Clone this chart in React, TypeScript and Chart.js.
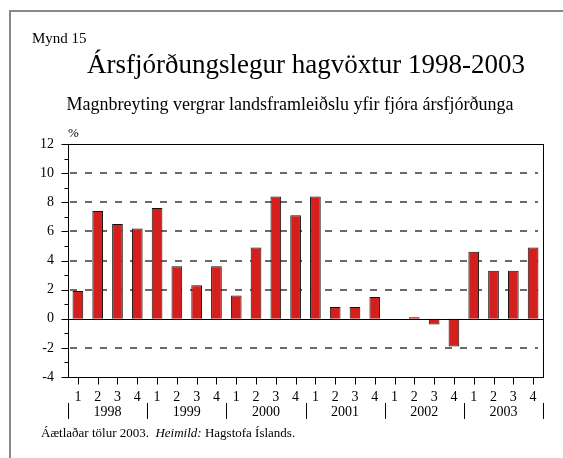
import React, { useEffect, useRef } from "react";
import { Chart, registerables } from "chart.js";

Chart.register(...registerables);

const years = ["1998", "1999", "2000", "2001", "2002", "2003"];
const quarters = ["1", "2", "3", "4"];
const growth = [
  1.9, 7.4, 6.5, 6.2,
  7.6, 3.6, 2.3, 3.6,
  1.6, 4.9, 8.4, 7.1,
  8.4, 0.8, 0.8, 1.5,
  0.0, 0.1, -0.4, -1.9,
  4.6, 3.3, 3.3, 4.9,
];
const yMin = -4;
const yMax = 12;
const dashedLevels = [-2, 2, 4, 6, 8, 10];

const figLabel = "Mynd 15";
const titleText = "Ársfjórðungslegur hagvöxtur 1998-2003";
const subtitleText = "Magnbreyting vergrar landsframleiðslu yfir fjóra ársfjórðunga";
const unitText = "%";
const footText = "Áætlaðar tölur 2003.";
const footItalic = "Heimild:";
const footRest = " Hagstofa Íslands.";

const labels = years.flatMap(() => quarters);
const SERIF = '"Liberation Serif", "Times New Roman", serif';

const decor = {
  id: "decor",
  beforeDatasetsDraw(chart: any) {
    const { ctx, chartArea: a, scales } = chart;
    const y = scales.y;
    ctx.save();
    ctx.strokeStyle = "#3a3a3a";
    ctx.lineWidth = 1.3;
    ctx.setLineDash([7, 8]);
    for (const v of dashedLevels) {
      const py = Math.round(y.getPixelForValue(v));
      ctx.beginPath();
      ctx.moveTo(a.left + 2, py);
      ctx.lineTo(a.right - 5, py);
      ctx.stroke();
    }
    ctx.restore();
  },
  afterDatasetsDraw(chart: any) {
    const { ctx, chartArea: a, scales } = chart;
    const y = scales.y;
    const x = scales.x;
    ctx.save();
    ctx.strokeStyle = "#000";
    ctx.lineWidth = 1;
    ctx.setLineDash([]);
    // zero line
    const z = Math.round(y.getPixelForValue(0)) + 0.5;
    ctx.beginPath();
    ctx.moveTo(a.left, z);
    ctx.lineTo(a.right, z);
    ctx.stroke();
    // plot frame
    const L = Math.round(a.left) + 0.5;
    const R = Math.round(a.right) + 0.5;
    const T = Math.round(a.top) + 0.5;
    const B = Math.round(a.bottom) + 0.5;
    ctx.strokeRect(L, T, R - L, B - T);
    // y ticks
    for (let v = yMin; v <= yMax; v++) {
      const py = Math.round(y.getPixelForValue(v)) + 0.5;
      const len = v % 2 === 0 ? 7 : 4;
      ctx.beginPath();
      ctx.moveTo(L - len, py);
      ctx.lineTo(L, py);
      ctx.stroke();
    }
    // x ticks
    for (let i = 0; i < labels.length; i++) {
      const px = Math.round(x.getPixelForValue(i)) + 0.5;
      ctx.beginPath();
      ctx.moveTo(px, B);
      ctx.lineTo(px, B + 7);
      ctx.stroke();
    }
    // year separators and labels
    const per = quarters.length;
    const step = x.getPixelForValue(1) - x.getPixelForValue(0);
    ctx.fillStyle = "#000";
    ctx.font = `14px ${SERIF}`;
    ctx.textAlign = "center";
    ctx.textBaseline = "middle";
    for (let k = 0; k <= years.length; k++) {
      const idx = k * per;
      const px =
        Math.round(
          idx < labels.length
            ? x.getPixelForValue(idx) - step / 2
            : x.getPixelForValue(labels.length - 1) + step / 2
        ) + 0.5;
      ctx.beginPath();
      ctx.moveTo(px, 403);
      ctx.lineTo(px, 419);
      ctx.stroke();
    }
    for (let k = 0; k < years.length; k++) {
      const c = (x.getPixelForValue(k * per) + x.getPixelForValue(k * per + per - 1)) / 2;
      ctx.fillText(years[k], c, 412);
    }
    // texts
    ctx.textAlign = "left";
    ctx.textBaseline = "alphabetic";
    ctx.font = `15px ${SERIF}`;
    ctx.fillText(figLabel, 32, 43);
    ctx.font = `27px ${SERIF}`;
    ctx.textAlign = "center";
    ctx.fillText(titleText, 306, 73);
    ctx.font = `18px ${SERIF}`;
    ctx.fillText(subtitleText, 290, 110);
    ctx.textAlign = "left";
    ctx.font = `13px ${SERIF}`;
    ctx.fillText(unitText, 68, 137);
    // footnote
    ctx.font = `13px ${SERIF}`;
    let fx = 41;
    ctx.fillText(footText, fx, 437);
    fx += ctx.measureText(footText + "  ").width;
    ctx.font = `italic 13px ${SERIF}`;
    ctx.fillText(footItalic, fx, 437);
    fx += ctx.measureText(footItalic).width;
    ctx.font = `13px ${SERIF}`;
    ctx.fillText(footRest, fx, 437);
    // outer frame
    ctx.strokeStyle = "#888";
    ctx.lineWidth = 2;
    ctx.beginPath();
    ctx.moveTo(10, 458);
    ctx.lineTo(10, 11);
    ctx.lineTo(563, 11);
    ctx.stroke();
    ctx.restore();
  },
};

export default function App() {
  const ref = useRef<HTMLCanvasElement | null>(null);
  useEffect(() => {
    if (!ref.current) return;
    const chart = new Chart(ref.current, {
      type: "bar",
      data: {
        labels,
        datasets: [
          {
            data: growth,
            backgroundColor: "#d41f1c",
            borderColor: "#111",
            borderWidth: 1,
            barPercentage: 0.54,
            categoryPercentage: 1,
          },
        ],
      },
      options: {
        animation: false,
        responsive: false,
        maintainAspectRatio: false,
        layout: { padding: { left: 0, top: 144, right: 20, bottom: 0 } },
        plugins: { legend: { display: false }, tooltip: { enabled: false }, title: { display: false } },
        scales: {
          x: {
            type: "category",
            grid: { display: false, drawTicks: false, tickLength: 0 },
            border: { display: false },
            ticks: {
              autoSkip: false,
              maxRotation: 0,
              padding: 12,
              color: "#000",
              font: { family: SERIF, size: 14 },
            },
            afterFit(s: any) {
              s.height = 81;
            },
          },
          y: {
            min: yMin,
            max: yMax,
            grid: { display: false, drawTicks: false, tickLength: 0 },
            border: { display: false },
            ticks: {
              stepSize: 1,
              padding: 14,
              color: "#000",
              font: { family: SERIF, size: 14 },
              callback: (v: any) => (Number(v) % 2 === 0 ? String(v) : ""),
            },
            afterFit(s: any) {
              s.width = 68;
            },
          },
        },
      },
      plugins: [decor],
    });
    return () => chart.destroy();
  }, []);
  return (
    <div style={{ position: "absolute", left: 0, top: 0, width: 563, height: 458, background: "#fff" }}>
      <canvas ref={ref} width={563} height={458} style={{ width: 563, height: 458, display: "block" }} />
    </div>
  );
}
